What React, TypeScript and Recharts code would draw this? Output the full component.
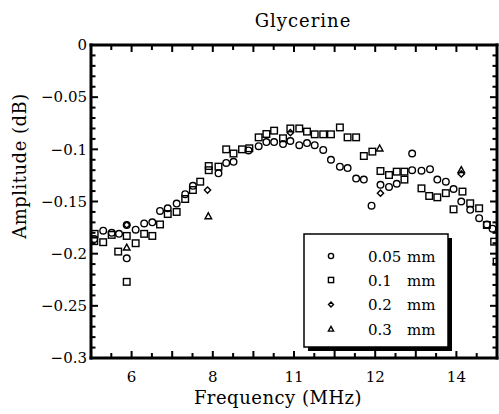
import React from 'react';
import { ScatterChart, Scatter, XAxis, YAxis, Customized } from 'recharts';

const TITLE = 'Glycerine';
const X_LABEL = 'Frequency (MHz)';
const Y_LABEL = 'Amplitude (dB)';

const xDomain = [5, 15];
const yDomain = [-0.3, 0];
const xTickValues = [6, 8, 10, 12, 14];
const xTickLabels = ['6', '8', '11', '12', '14'];
const yTickValues = [0, -0.05, -0.1, -0.15, -0.2, -0.25, -0.3];
const yTickLabels = ['0', '\u22120.05', '\u22120.1', '\u22120.15', '\u22120.2', '\u22120.25', '\u22120.3'];
const xMinorTicks = [5.5, 6, 6.5, 7, 7.5, 8, 8.5, 9, 9.5, 10, 10.5, 11, 11.5, 12, 12.5, 13, 13.5, 14, 14.5];
const yMinorTicks = [0, -0.01, -0.02, -0.03, -0.04, -0.05, -0.06, -0.07, -0.08, -0.09, -0.1, -0.11, -0.12, -0.13, -0.14, -0.15, -0.16, -0.17, -0.18, -0.19, -0.2, -0.21, -0.22, -0.23, -0.24, -0.25, -0.26, -0.27, -0.28, -0.29, -0.3];

const seriesNames = ['0.05', '0.1', '0.2', '0.3'];
const seriesUnit = 'mm';
const seriesShapes = ['circle', 'square', 'diamond', 'triangle'];

const freq005 = [5.08, 5.30, 5.51, 5.69, 5.88, 5.88, 6.10, 6.31, 6.51, 6.70, 6.89, 7.11, 7.32, 7.51, 8.14, 8.33, 8.51, 8.88, 9.13, 9.32, 9.51, 9.73, 9.91, 10.13, 10.32, 10.51, 10.72, 10.91, 11.13, 11.32, 11.53, 11.72, 11.91, 12.13, 12.34, 12.53, 12.91, 12.91, 13.14, 13.35, 13.53, 13.74, 13.93, 14.12, 14.34, 14.56, 14.75, 14.89];
const amp005 = [-0.186, -0.178, -0.180, -0.181, -0.1725, -0.2045, -0.177, -0.171, -0.170, -0.159, -0.1565, -0.152, -0.143, -0.135, -0.123, -0.113, -0.112, -0.101, -0.097, -0.093, -0.093, -0.095, -0.092, -0.096, -0.094, -0.096, -0.1006, -0.110, -0.1166, -0.118, -0.128, -0.129, -0.154, -0.134, -0.136, -0.133, -0.104, -0.120, -0.1205, -0.119, -0.129, -0.131, -0.138, -0.150, -0.158, -0.166, -0.172, -0.176];

const freq01 = [5.09, 5.08, 5.30, 5.51, 5.67, 5.88, 5.88, 6.10, 6.31, 6.51, 6.70, 6.89, 7.11, 7.32, 7.51, 7.69, 7.90, 7.90, 8.14, 8.33, 8.51, 8.72, 8.90, 9.13, 9.32, 9.51, 9.73, 9.91, 10.13, 10.32, 10.51, 10.72, 10.91, 11.13, 11.32, 11.53, 11.72, 11.93, 12.13, 12.34, 12.53, 12.72, 12.72, 13.14, 13.33, 13.53, 13.74, 13.93, 14.15, 14.34, 14.56, 14.75, 14.93, 14.99];
const amp01 = [-0.181, -0.188, -0.189, -0.182, -0.198, -0.183, -0.227, -0.190, -0.181, -0.183, -0.172, -0.162, -0.160, -0.1476, -0.139, -0.131, -0.116, -0.120, -0.1166, -0.100, -0.104, -0.100, -0.099, -0.0885, -0.0853, -0.0821, -0.0894, -0.080, -0.080, -0.083, -0.0856, -0.0856, -0.0856, -0.079, -0.0885, -0.0885, -0.1064, -0.1022, -0.1208, -0.1246, -0.1214, -0.1214, -0.129, -0.1374, -0.1447, -0.146, -0.142, -0.1575, -0.1405, -0.1517, -0.1565, -0.1725, -0.1885, -0.2077];

const freq02 = [5.88, 7.87, 9.91, 12.13, 14.12];
const amp02 = [-0.1725, -0.139, -0.084, -0.142, -0.1236];

const freq03 = [5.88, 7.89, 12.11, 14.12];
const amp03 = [-0.194, -0.164, -0.099, -0.1198];

const toPoints = (xs: number[], ys: number[]) => xs.map((x, i) => ({ x, y: ys[i] }));
const seriesData = [
  toPoints(freq005, amp005),
  toPoints(freq01, amp01),
  toPoints(freq02, amp02),
  toPoints(freq03, amp03),
];

const FONT = "'DejaVu Serif', serif";
const CHART_W = 499;
const CHART_H = 414;
const MARGIN = { top: 45, right: 2, bottom: 0, left: 0 };
const Y_AXIS_W = 91;
const X_AXIS_H = 56;
const PLOT_X = MARGIN.left + Y_AXIS_W;
const PLOT_Y = MARGIN.top;
const PLOT_W = CHART_W - MARGIN.left - MARGIN.right - Y_AXIS_W;
const PLOT_H = CHART_H - MARGIN.top - MARGIN.bottom - X_AXIS_H;
const X_TICK_MARGIN = 13;
const Y_TICK_MARGIN = 4;
const TICK_W = 2;

const isIn = (arr: number[], v: number) => arr.findIndex((t) => Math.abs(t - v) < 1e-9);

function XTick(props: any) {
  const { x, y, payload } = props;
  const v = payload.value as number;
  const axisY = y - X_TICK_MARGIN;
  const len = Number.isInteger(v) ? 7 : 5;
  const li = isIn(xTickValues, v);
  return (
    <g>
      <rect x={x - TICK_W / 2} y={axisY - len} width={TICK_W} height={len} fill="#000" />
      <rect x={x - TICK_W / 2} y={axisY - PLOT_H} width={TICK_W} height={len} fill="#000" />
      {li >= 0 && (
        <text x={x} y={y} dy="0.71em" textAnchor="middle" fontFamily={FONT} fontSize={15} fill="#000">
          {xTickLabels[li]}
        </text>
      )}
    </g>
  );
}

function YTick(props: any) {
  const { x, y, payload } = props;
  const v = payload.value as number;
  const axisX = x + Y_TICK_MARGIN;
  const li = isIn(yTickValues, v);
  const len = li >= 0 ? 7 : 4.5;
  return (
    <g>
      <rect x={axisX} y={y - TICK_W / 2} width={len} height={TICK_W} fill="#000" />
      <rect x={axisX + PLOT_W - len} y={y - TICK_W / 2} width={len} height={TICK_W} fill="#000" />
      {li >= 0 && (
        <text x={x} y={y} dy="0.355em" textAnchor="end" fontFamily={FONT} fontSize={15} fill="#000">
          {yTickLabels[li]}
        </text>
      )}
    </g>
  );
}

function Marker({ cx, cy, kind, s }: { cx: number; cy: number; kind: string; s: number }) {
  const common = { fill: 'none', stroke: '#000', strokeWidth: 1.4 };
  if (cx == null || cy == null) return null;
  if (kind === 'circle') return <circle cx={cx} cy={cy} r={s} {...common} />;
  if (kind === 'square') return <rect x={cx - s} y={cy - s} width={2 * s} height={2 * s} {...common} />;
  if (kind === 'diamond') {
    const d = s * 0.95;
    return <path d={`M${cx},${cy - d}L${cx + d},${cy}L${cx},${cy + d}L${cx - d},${cy}Z`} {...common} />;
  }
  const t = s;
  return <path d={`M${cx},${cy - t}L${cx + t},${cy + t * 0.8}L${cx - t},${cy + t * 0.8}Z`} {...common} />;
}

function Overlay() {
  const lx = 304, ly = 234, lw = 144, lh = 113;
  const rowY = [256, 280, 304.5, 329];
  return (
    <g>
      <rect x={PLOT_X - 1.5} y={PLOT_Y - 1.5} width={PLOT_W + 3} height={3} fill="#000" />
      <rect x={PLOT_X + PLOT_W - 1.5} y={PLOT_Y - 1.5} width={3} height={PLOT_H + 3} fill="#000" />
      <rect x={PLOT_X - 1.5} y={PLOT_Y - 1.5} width={3} height={PLOT_H + 3} fill="#000" />
      <rect x={PLOT_X - 1.5} y={PLOT_Y + PLOT_H - 1.5} width={PLOT_W + 3} height={3} fill="#000" />
      <text x={303} y={27} textAnchor="middle" fontFamily={FONT} fontSize={18} letterSpacing={1} fill="#000">{TITLE}</text>
      <text x={278} y={404} textAnchor="middle" fontFamily={FONT} fontSize={18} letterSpacing={0.5} fill="#000">{X_LABEL}</text>
      <text x={26} y={166} textAnchor="middle" fontFamily={FONT} fontSize={18} letterSpacing={0.5} fill="#000" transform="rotate(-90, 26, 166)">{Y_LABEL}</text>
      <rect x={lx + 4} y={ly + 4} width={lw} height={lh} fill="#000" />
      <rect x={lx} y={ly} width={lw} height={lh} fill="#fff" stroke="#000" strokeWidth={1.5} />
      {seriesNames.map((n, i) => (
        <g key={n}>
          <Marker cx={331} cy={rowY[i]} kind={seriesShapes[i]} s={2.6} />
          <text x={368} y={rowY[i] + 5.5} fontFamily={FONT} fontSize={15} fill="#000">{n}</text>
          <text x={407} y={rowY[i] + 5.5} fontFamily={FONT} fontSize={15} fill="#000">{seriesUnit}</text>
        </g>
      ))}
    </g>
  );
}

export default function App() {
  return (
    <div style={{ position: 'absolute', left: 0, top: 0, background: '#fff' }}>
      <ScatterChart width={CHART_W} height={CHART_H} margin={MARGIN}>
        <XAxis
          type="number"
          dataKey="x"
          domain={xDomain}
          ticks={xMinorTicks}
          interval={0}
          allowDataOverflow
          height={X_AXIS_H}
          tickSize={0}
          tickMargin={X_TICK_MARGIN}
          tickLine={false}
          axisLine={false}
          tick={(p: any) => <XTick {...p} />}
        />
        <YAxis
          type="number"
          dataKey="y"
          domain={yDomain}
          ticks={yMinorTicks}
          interval={0}
          allowDataOverflow
          width={Y_AXIS_W}
          tickSize={0}
          tickMargin={Y_TICK_MARGIN}
          tickLine={false}
          axisLine={false}
          tick={(p: any) => <YTick {...p} />}
        />
        {seriesData.map((d, i) => (
          <Scatter
            key={seriesNames[i]}
            name={seriesNames[i] + ' ' + seriesUnit}
            data={d}
            isAnimationActive={false}
            shape={(p: any) => <Marker cx={p.cx} cy={p.cy} kind={seriesShapes[i]} s={3.3} />}
          />
        ))}
        <Customized component={<Overlay />} />
      </ScatterChart>
    </div>
  );
}
